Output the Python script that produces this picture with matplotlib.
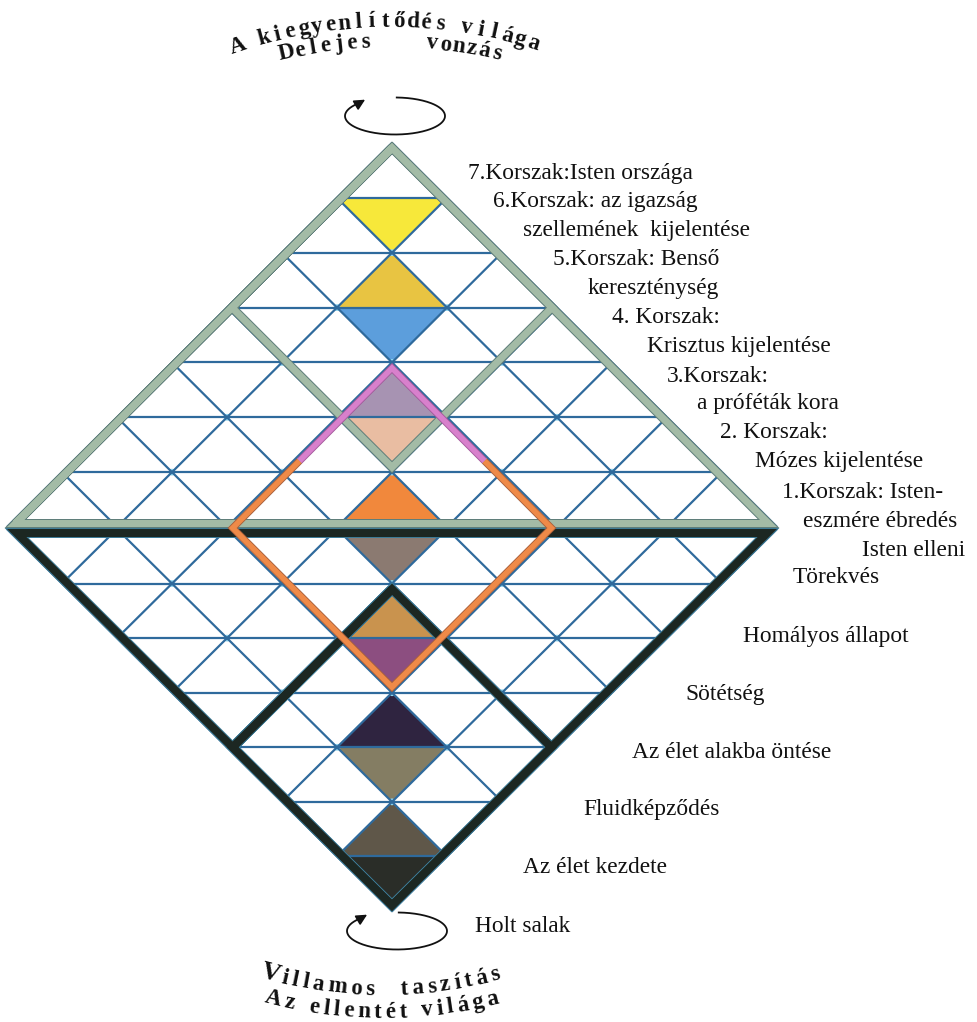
import numpy as np
import matplotlib
matplotlib.use("Agg")
import matplotlib.pyplot as plt
from matplotlib.patches import Polygon
from matplotlib.collections import LineCollection
from matplotlib.textpath import TextToPath
from matplotlib.font_manager import FontProperties

# ---------------- data ----------------
upper_colors = ['#ffffff', '#f7e83a', '#e8c442', '#5c9edc', '#a793b2', '#e9bda2', '#f1883c']
lower_colors = ['#8b7a71', '#c9934e', '#8c4e80', '#2f2440', '#847d63', '#5f5749', '#2a2d28']

labels = ["7.Korszak:Isten országa", "6.Korszak: az igazság", "szellemének  kijelentése",
          "5.Korszak: Benső", "kereszténység", "4. Korszak:", "Krisztus kijelentése",
          "3.Korszak:", "a próféták kora", "2. Korszak:", "Mózes kijelentése",
          "1.Korszak: Isten-", "eszmére ébredés", "Isten elleni", "Törekvés",
          "Homályos állapot", "Sötétség", "Az élet alakba öntése", "Fluidképződés",
          "Az élet kezdete", "Holt salak"]
label_x = [468, 493, 523, 553, 588, 612, 647, 667, 697, 720, 755,
           782, 803, 862, 793, 743, 685, 632, 583, 523, 475]
label_y = [179, 207, 236, 265, 294, 323, 352, 382, 409, 438, 467,
           498, 527, 556, 583, 642, 700, 758, 815, 873, 932]

top_arc_texts = ["A kiegyenlítődés világa", "Delejes    vonzás"]
bottom_arc_texts = ["Villamos  taszítás", "Az ellentét világa"]

SERIF = ['Liberation Serif', 'DejaVu Serif']

# ---------------- geometry parameters ----------------
W, H, DPI = 978, 1022, 100
CX, DX = 392, 55.0
TOP, UBASE, LTOP, BOT, N = 143.0, 527.0, 529.0, 911.0, 7
PX = 72.0 / DPI   # points per pixel

def y_up(k):
    return TOP + k * (UBASE - TOP) / N

def y_lo(k):
    return LTOP + k * (BOT - LTOP) / N

def yg(g):
    if g < N:
        return y_up(g)
    if g == N:
        return (UBASE + LTOP) / 2
    return y_lo(g - N)

def inset(poly, d):
    poly = np.asarray(poly, float)
    c = poly.mean(axis=0)
    n = len(poly)
    lines = []
    for i in range(n):
        p, q = poly[i], poly[(i + 1) % n]
        t = q - p
        nrm = np.array([-t[1], t[0]]) / np.hypot(*t)
        if np.dot(c - p, nrm) < 0:
            nrm = -nrm
        lines.append((p + nrm * d, t))
    out = []
    for i in range(n):
        p1, t1 = lines[i - 1]
        p2, t2 = lines[i]
        A = np.array([t1, -t2]).T
        s = np.linalg.solve(A, p2 - p1)
        out.append(p1 + s[0] * t1)
    return np.array(out)

def band(ax, poly, wpx, edge, fill, d=None, z=5):
    if d is None:
        d = wpx / 2
    p = inset(poly, d)
    p = np.vstack([p, p[:2]])
    ax.plot(p[:, 0], p[:, 1], color=edge, lw=(wpx + 2.0) * PX, solid_joinstyle='miter',
            solid_capstyle='butt', zorder=z)
    ax.plot(p[:, 0], p[:, 1], color=fill, lw=wpx * PX, solid_joinstyle='miter',
            solid_capstyle='butt', zorder=z + 0.1)
    return p

fig = plt.figure(figsize=(W / DPI, H / DPI), dpi=DPI)
ax = fig.add_axes([0, 0, 1, 1])
ax.set_xlim(0, W)
ax.set_ylim(H, 0)
ax.axis('off')

# ---------------- center coloured cells ----------------
for k in range(1, N + 1):
    col = upper_colors[k - 1]
    if k % 2 == 1:
        tri = [(CX, y_up(k - 1)), (CX - DX, y_up(k)), (CX + DX, y_up(k))]
    else:
        tri = [(CX - DX, y_up(k - 1)), (CX + DX, y_up(k - 1)), (CX, y_up(k))]
    ax.add_patch(Polygon(tri, closed=True, facecolor=col, edgecolor='none', zorder=1))
for k in range(1, N + 1):
    col = lower_colors[k - 1]
    if k % 2 == 1:
        tri = [(CX - DX, y_lo(k - 1)), (CX + DX, y_lo(k - 1)), (CX, y_lo(k))]
    else:
        tri = [(CX, y_lo(k - 1)), (CX - DX, y_lo(k)), (CX + DX, y_lo(k))]
    ax.add_patch(Polygon(tri, closed=True, facecolor=col, edgecolor='none', zorder=1))

# ---------------- grid ----------------
segs = []
nodes = set()
for k in range(1, N + 1):
    for i in range(k):
        ax_ = CX + DX * (2 * i - (k - 1))
        a = (ax_, y_up(k - 1)); bl = (ax_ - DX, y_up(k)); br = (ax_ + DX, y_up(k))
        segs += [[a, bl], [a, br], [bl, br]]
        nodes.update([a, bl, br])
for k in range(1, N + 1):
    for i in range(N + 1 - k):
        c_ = CX + DX * (2 * i - (N - k))
        tl = (c_ - DX, y_lo(k - 1)); tr = (c_ + DX, y_lo(k - 1)); ap = (c_, y_lo(k))
        segs += [[tl, tr], [tl, ap], [tr, ap]]
        nodes.update([tl, tr, ap])

def interior(p):
    x, y = p
    if y <= UBASE:
        half = (y - TOP) / (UBASE - TOP) * N * DX
    else:
        half = (BOT - y) / (BOT - LTOP) * N * DX
    return abs(x - CX) < half - 1 and TOP + 1 < y < BOT - 1 and abs(y - UBASE) > 1 and abs(y - LTOP) > 1

nodes = np.array(sorted(p for p in nodes if interior(p)))
ax.scatter(nodes[:, 0], nodes[:, 1], s=24, color='#8fd8f3', edgecolors='none', zorder=2)
ax.add_collection(LineCollection(segs, colors='#2f6a9c', linewidths=1.6, zorder=3))

# ---------------- bands ----------------
def diamond(g0):
    return [(CX, yg(g0)), (CX - 3 * DX, yg(g0 + 3)), (CX, yg(g0 + 6)), (CX + 3 * DX, yg(g0 + 3))]

upper_tri = [(CX, TOP), (CX - N * DX, UBASE), (CX + N * DX, UBASE)]
lower_tri = [(CX - N * DX, LTOP), (CX + N * DX, LTOP), (CX, BOT)]

band(ax, diamond(0), 7.0, '#5f7e7a', '#a3bba6', z=5)
band(ax, upper_tri, 7.0, '#5f7e7a', '#a3bba6', z=5)

band(ax, diamond(8), 8.0, '#3d7b96', '#1c2722', z=6)
band(ax, lower_tri, 8.0, '#3d7b96', '#1c2722', z=6)

mid = inset(diamond(4), 4.0)
top_v, left_v, bot_v, right_v = mid
split = 0.58
pl = top_v + (left_v - top_v) * split
pr = top_v + (right_v - top_v) * split
orange_path = np.array([pl, left_v, bot_v, right_v, pr])
pink_path = np.array([pl, top_v, pr])
for path, edge, fill in [(orange_path, '#a8603c', '#ef8a48'), (pink_path, '#a35a9c', '#d880cc')]:
    ax.plot(path[:, 0], path[:, 1], color=edge, lw=7.3 * PX, solid_joinstyle='miter',
            solid_capstyle='butt', zorder=7)
    ax.plot(path[:, 0], path[:, 1], color=fill, lw=5.5 * PX, solid_joinstyle='miter',
            solid_capstyle='butt', zorder=7.1)

# ---------------- right-hand labels ----------------
for t, x, y in zip(labels, label_x, label_y):
    ax.text(x, y, t, family=SERIF, fontsize=16.8, ha='left',
            va='baseline', color='#111111', zorder=10)

# ---------------- arc texts ----------------
ttp = TextToPath()
ARC_SIZE = 16.5
arc_prop = FontProperties(family='Liberation Serif', weight='bold', size=ARC_SIZE)

def char_widths(s, prop):
    ws = []
    for ch in s:
        w, h, d = ttp.get_text_width_height_descent(ch if ch != ' ' else 'n', prop, ismath=False)
        if ch == ' ':
            w *= 0.55
        ws.append(w / PX)
    return np.array(ws)

def arc_text(s, cx, cy, R, x_first, x_last, frown=True, first_size=None, uniform=False):
    ws = char_widths(s, arc_prop)
    if uniform:
        ws = np.full(len(s), ws.mean())
    th0 = np.arcsin((x_first - cx) / R)
    th1 = np.arcsin((x_last - cx) / R)
    total = R * (th1 - th0)
    base = np.concatenate([[0], np.cumsum((ws[:-1] + ws[1:]) / 2)])
    track = (total - base[-1]) / (len(s) - 1)
    pos = base + track * np.arange(len(s))
    for i, ch in enumerate(s):
        if ch == ' ':
            continue
        th = th0 + pos[i] / R
        if frown:
            r = R - 5
            x = cx + r * np.sin(th); y = cy - r * np.cos(th)
            rot = -np.degrees(th)
        else:
            r = R + 5
            x = cx + r * np.sin(th); y = cy + r * np.cos(th)
            rot = np.degrees(th)
        size = first_size if (first_size and i == 0) else ARC_SIZE
        ax.text(x, y, ch, family=SERIF, fontweight='bold', fontsize=size,
                rotation=rot, rotation_mode='anchor', ha='center', va='baseline',
                color='#111111', zorder=10)

arc_text(top_arc_texts[0], 390, 510, 488, 238, 533, frown=True, uniform=True)
arc_text(top_arc_texts[1], 390, 510, 468, 287, 497, frown=True, uniform=True)
arc_text(bottom_arc_texts[0], 383, 557, 433, 270, 495, frown=False, first_size=19)
arc_text(bottom_arc_texts[1], 383, 557, 456, 273, 493, frown=False)

# ---------------- rotation arrows ----------------
def swirl(cx, cy, a, b):
    t = np.radians(np.linspace(88, -228, 200))
    x = cx + a * np.cos(t)
    y = cy - b * np.sin(t)
    ax.plot(x, y, color='#111111', lw=1.3, zorder=10)
    ax.annotate('', xy=(x[-1] + 6, y[-1] - 4), xytext=(x[-3], y[-3]),
                arrowprops=dict(arrowstyle='-|>', color='#111111', lw=1.2, mutation_scale=16),
                zorder=10)

swirl(395, 116, 50, 18.5)
swirl(397, 931, 50, 18.5)

fig.savefig('out.png', dpi=DPI, facecolor='white')
